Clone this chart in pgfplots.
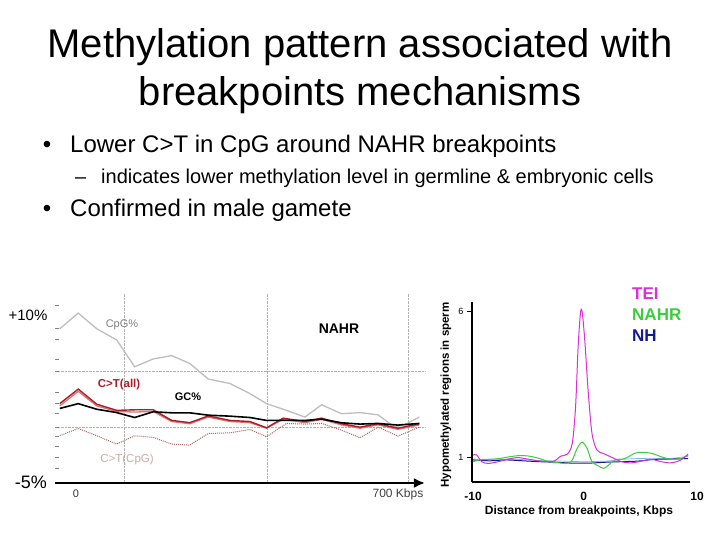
\documentclass[border=0pt]{standalone}
\usepackage{fontspec}
\setmainfont{Liberation Sans}
\usepackage{pgfplots}
\pgfplotsset{compat=1.18}
\usetikzlibrary{arrows.meta}
\definecolor{cpg}{RGB}{190,190,190}
\definecolor{ctall}{RGB}{170,30,40}
\definecolor{ctalllight}{RGB}{222,115,115}
\definecolor{ctcpg}{RGB}{170,100,100}
\definecolor{ctcpgtxt}{RGB}{205,170,170}
\definecolor{tei}{RGB}{218,48,218}
\definecolor{nahr}{RGB}{60,205,60}
\definecolor{nh}{RGB}{20,25,150}
\definecolor{nhlight}{RGB}{130,175,230}
\newcommand{\fs}[1]{\fontsize{#1}{#1}\selectfont}
\begin{document}
\begin{tikzpicture}
\path[use as bounding box, fill=white] (0pt,0pt) rectangle (720pt,-540pt);
% ---- title and bullets
\node[anchor=base, font=\fs{40}, inner sep=0pt] at (360pt,-58pt) {Methylation pattern associated with};
\node[anchor=base, font=\fs{40}, inner sep=0pt] at (360pt,-106pt) {breakpoints mechanisms};
\node[anchor=base, font=\fs{24}, inner sep=0pt] at (47pt,-153pt) {•};
\node[anchor=base west, font=\fs{24}, inner sep=0pt] at (70pt,-153pt) {Lower C>T in CpG around NAHR breakpoints};
\node[anchor=base west, font=\fs{20}, inner sep=0pt] at (75pt,-184pt) {–};
\node[anchor=base west, font=\fs{20}, inner sep=0pt] at (101pt,-184pt) {indicates lower methylation level in germline \& embryonic cells};
\node[anchor=base, font=\fs{24}, inner sep=0pt] at (47pt,-216pt) {•};
\node[anchor=base west, font=\fs{24}, inner sep=0pt] at (70pt,-216pt) {Confirmed in male gamete};
% ---- left chart
\begin{axis}[
  at={(55pt,-483pt)}, anchor=south west,
  scale only axis, width=370pt, height=190pt,
  xmin=-44, xmax=736, ymin=-5, ymax=12,
  axis x line=bottom, axis y line=left,
  x axis line style={line width=2.6pt, -{Latex[length=11pt,width=10pt]}},
  y axis line style={draw=none},
  xtick={103,403,700}, xticklabels={}, xmajorgrids,
  major x tick style={draw=none},
  grid style={densely dotted, gray!60, line width=0.6pt},
  ytick={-3.7,-2.7,-1.7,-0.8,1.2,2.1,3.1,6.1,7.9,8.8,10.9}, yticklabels={},
  major y tick style={gray, line width=0.6pt},
  tick align=inside, major tick length=4pt,
  extra y ticks={0,5}, extra y tick labels={},
  extra y tick style={grid=major, major tick style={gray, line width=0.6pt}},
  clip=false,
]
\addplot[cpg, line width=1.3pt] coordinates {
(-34,8.8)(5,10.2)(44,8.8)(86,7.8)(124,5.4)(163,6.1)(202,6.4)(240,5.7)(279,4.3)(325,3.9)(367,3.0)(402,2.1)(444,1.5)(483,0.9)(518,2.0)(560,1.2)(599,1.3)(637,1.1)(672,0.0)(697,0.3)(724,0.9)};
\addplot[ctcpg, densely dotted, line width=1pt] coordinates {
(-34,-0.77)(5,-0.12)(44,-0.77)(86,-1.52)(124,-0.77)(163,-0.92)(202,-1.52)(240,-1.61)(279,-0.57)(325,-0.51)(367,-0.21)(402,-0.86)(444,0.33)(483,0.27)(518,0.33)(560,-0.27)(599,-0.95)(637,0.0)(679,-0.8)(724,0.0)};
\addplot[ctalllight, line width=1.3pt] coordinates {
(-34,1.9)(5,3.2)(44,1.9)(86,1.4)(124,1.35)(163,1.4)(202,0.5)(240,0.3)(279,0.9)(325,0.5)(367,0.4)(402,-0.1)(437,0.7)(483,0.4)(518,0.7)(560,0.2)(599,-0.1)(637,0.2)(679,-0.2)(724,0.2)};
\addplot[ctall, line width=1.4pt] coordinates {
(-34,2.1)(5,3.4)(44,2.05)(86,1.5)(124,1.55)(163,1.55)(202,0.6)(240,0.4)(279,1.0)(325,0.6)(367,0.5)(402,-0.06)(437,0.8)(483,0.5)(518,0.8)(560,0.3)(599,0.0)(637,0.3)(679,-0.1)(724,0.3)};
\addplot[black, line width=1.6pt] coordinates {
(-34,1.67)(5,2.1)(44,1.6)(86,1.3)(124,0.86)(163,1.37)(202,1.28)(240,1.28)(279,1.07)(325,0.98)(367,0.86)(402,0.6)(444,0.6)(483,0.6)(518,0.71)(560,0.39)(599,0.27)(637,0.33)(679,0.18)(724,0.33)};
\end{axis}
\node[font=\fs{15}, inner sep=0pt] at (28pt,-315pt) {+10\%};
\node[font=\fs{18}, inner sep=0pt] at (31pt,-482pt) {-5\%};
\node[font=\fs{11}, text=gray, inner sep=0pt] at (122pt,-325pt) {CpG\%};
\node[font=\bfseries\fs{14}, inner sep=0pt] at (339pt,-329pt) {NAHR};
\node[font=\bfseries\fs{11.5}, text=ctall, inner sep=0pt] at (119pt,-385pt) {C>T(all)};
\node[font=\bfseries\fs{11}, inner sep=0pt] at (188pt,-397pt) {GC\%};
\node[font=\fs{11.5}, text=ctcpgtxt, inner sep=0pt] at (127pt,-460pt) {C>T(CpG)};
\node[font=\fs{11}, text=black!80, inner sep=0pt] at (76pt,-494pt) {0};
\node[font=\fs{12}, text=black!75, inner sep=0pt] at (398pt,-494pt) {700 Kbps};
% ---- right chart
\begin{axis}[
  at={(472pt,-482pt)}, anchor=south west,
  scale only axis, width=218pt, height=180pt,
  xmin=-10.1, xmax=9.6, ymin=0.14, ymax=6.34,
  axis x line=bottom, axis y line=left,
  axis line style={line width=1.6pt, -},
  /pgf/number format/assume math mode=true,
  xtick={-10,0}, major x tick style={draw=none},
  extra x ticks={9.6}, extra x tick labels={10},
  extra x tick style={xticklabel style={xshift=7pt}, major x tick style={draw=none}},
  xticklabel style={font=\bfseries\fs{12}, yshift=-2pt},
  ytick={1,6}, yticklabel style={font=\fs{9}},
  major y tick style={line width=1pt, black}, tick align=outside, major tick length=5pt,
  clip=false,
]
\addplot[nhlight, line width=0.7pt, smooth] coordinates {
(-10,0.93)(-8,0.92)(-6,0.92)(-4,0.88)(-2,0.86)(0,0.84)(2,0.86)(3.5,0.92)(5,0.95)(6.5,0.94)(8,0.96)(9.43,1.02)};
\addplot[nh, line width=1pt, smooth] coordinates {
(-10,0.90)(-8.48,0.87)(-7.0,0.90)(-5.5,0.87)(-4.02,0.84)(-2.53,0.82)(-1.04,0.79)(0.45,0.79)(1.93,0.82)(3.42,0.84)(4.91,0.86)(6.40,0.92)(7.89,0.93)(9.43,0.95)};
\addplot[nahr, line width=1pt, smooth] coordinates {
(-10,0.84)(-9.38,0.90)(-8.48,0.92)(-7.59,0.95)(-6.70,1.01)(-5.80,1.05)(-4.91,1.03)(-4.02,0.95)(-3.13,0.84)(-2.23,0.80)(-1.49,0.78)(-1.04,0.90)(-0.60,1.30)(-0.15,1.51)(0.30,1.30)(0.74,0.84)(1.34,0.69)(1.79,0.61)(2.23,0.72)(2.83,0.90)(3.72,0.95)(4.61,1.13)(5.21,1.16)(6.10,1.13)(7.00,1.01)(7.89,0.92)(8.78,0.95)(9.43,1.07)};
\addplot[tei, line width=1pt, smooth] coordinates {
(-10,1.07)(-9.67,1.07)(-9.23,0.84)(-8.63,0.78)(-7.74,0.84)(-6.85,0.93)(-5.95,0.98)(-5.06,0.93)(-4.17,0.87)(-3.42,0.84)(-2.68,0.86)(-2.08,1.03)(-1.49,1.10)(-1.04,1.47)(-0.74,2.74)(-0.51,4.80)(-0.30,5.95)(-0.15,6.01)(0.09,5.03)(0.39,3.31)(0.74,1.82)(1.19,1.24)(1.79,1.12)(2.53,0.99)(3.42,0.84)(4.32,0.80)(5.21,0.86)(6.10,0.92)(7.00,0.84)(7.89,0.80)(8.78,0.90)(9.43,1.10)};
\end{axis}
\node[font=\bfseries\fs{11.5}, rotate=90, inner sep=0pt] at (446pt,-395pt) {Hypomethylated regions in sperm};
\node[font=\bfseries\fs{12}, anchor=base, inner sep=0pt] at (579pt,-514pt) {Distance from breakpoints, Kbps};
\node[font=\bfseries\fs{17}, text=tei, anchor=base west, inner sep=0pt] at (632pt,-299pt) {TEI};
\node[font=\bfseries\fs{17}, text=nahr, anchor=base west, inner sep=0pt] at (632pt,-320pt) {NAHR};
\node[font=\bfseries\fs{17}, text=nh, anchor=base west, inner sep=0pt] at (632pt,-341pt) {NH};
\end{tikzpicture}
\end{document}
